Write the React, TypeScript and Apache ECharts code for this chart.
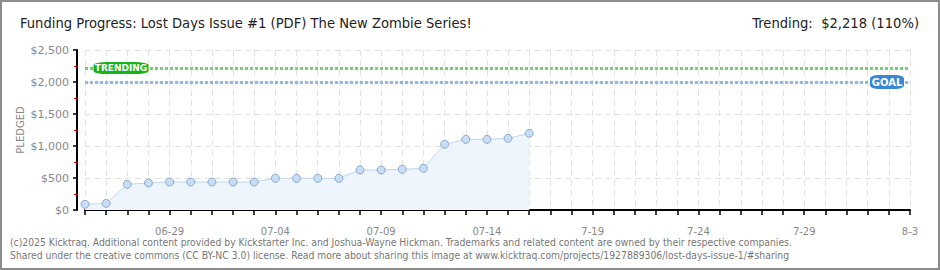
import { useEffect, useRef } from "react";
import * as echarts from "echarts";

const categories = [
  "06-25", "06-26", "06-27", "06-28", "06-29", "06-30",
  "07-01", "07-02", "07-03", "07-04", "07-05", "07-06", "07-07", "07-08",
  "07-09", "07-10", "07-11", "07-12", "07-13", "07-14", "07-15", "07-16",
  "7-17", "7-18", "7-19", "7-20", "7-21", "7-22", "7-23", "7-24", "7-25",
  "7-26", "7-27", "7-28", "7-29", "7-30", "7-31", "8-1", "8-2", "8-3",
];
const tickLabels = ["06-29", "07-04", "07-09", "07-14", "7-19", "7-24", "7-29", "8-3"];
const pledged = [
  89, 104, 401, 422, 437, 437, 437, 437, 437, 495, 495, 495, 495, 625, 625,
  635, 651, 1026, 1104, 1104, 1120, 1198,
];
const trending = 2218;
const goal = 2000;
const titleText = "Funding Progress: Lost Days Issue #1 (PDF) The New Zombie Series!";
const trendingText = "Trending:  $2,218 (110%)";
const footer1 =
  "(c)2025 Kicktraq. Additional content provided by Kickstarter Inc. and Joshua-Wayne Hickman. Trademarks and related content are owned by their respective companies.";
const footer2 =
  "Shared under the creative commons (CC BY-NC 3.0) license. Read more about sharing this image at www.kicktraq.com/projects/1927889306/lost-days-issue-1/#sharing";

export default function App() {
  const ref = useRef<HTMLDivElement>(null);
  useEffect(() => {
    document.body.style.margin = "0";
    const chart = echarts.init(ref.current!, null, { renderer: "svg" });
    const titleFont = "'Liberation Sans Narrow', 'DejaVu Sans Condensed', 'Liberation Sans', sans-serif";
    const smallFont = "'DejaVu Sans', sans-serif";
    chart.setOption({
      animation: false,
      backgroundColor: "#ffffff",
      grid: { left: 85, right: 30, top: 50, bottom: 60, containLabel: false },
      xAxis: {
        type: "category",
        data: categories,
        boundaryGap: false,
        offset: 10,
        axisLine: { show: true, lineStyle: { color: "#000", width: 2 } },
        axisTick: { show: true, interval: 0, length: 5, lineStyle: { color: "#000", width: 1.5 } },
        axisLabel: {
          interval: (_i: number, v: string) => tickLabels.includes(v),
          color: "#888",
          fontSize: 10,
          fontFamily: smallFont,
          margin: 6,
        },
        splitLine: {
          show: true,
          interval: 0,
          lineStyle: { color: "#e2e2e2", type: [6, 4], width: 1 },
        },
      },
      yAxis: {
        type: "value",
        min: 0,
        max: 2500,
        interval: 500,
        offset: 8,
        name: "PLEDGED",
        nameLocation: "middle",
        nameRotate: 90,
        nameGap: 52,
        nameMoveOverlap: false,
        nameTextStyle: { color: "#888", fontSize: 10, fontFamily: smallFont },
        axisLine: { show: true, lineStyle: { color: "#000", width: 2 } },
        axisTick: { show: true, length: 4, lineStyle: { color: "#000", width: 1.5 } },
        minorTick: { show: true, splitNumber: 2, length: 3, lineStyle: { color: "#e00000", width: 1 } },
        axisLabel: {
          color: "#888",
          fontSize: 11,
          fontFamily: smallFont,
          margin: 8,
          formatter: (v: number) => "$" + v.toLocaleString("en-US"),
        },
        splitLine: { show: true, lineStyle: { color: "#e2e2e2", type: [6, 4], width: 1 } },
      },
      series: [
        {
          type: "line",
          data: pledged,
          symbol: "circle",
          symbolSize: 8,
          lineStyle: { color: "#bcd6f2", width: 1 },
          itemStyle: { color: "#c6def7", borderColor: "#8ea9cc", borderWidth: 1 },
          areaStyle: { color: "#eef5fd", opacity: 1 },
          markLine: {
            silent: true,
            symbol: ["none", "none"],
            label: { show: false },
            data: [
              { yAxis: trending, lineStyle: { color: "#72d272", width: 3, type: [3, 2] } },
              { yAxis: goal, lineStyle: { color: "#8db8e8", width: 3, type: [3, 2] } },
            ],
          },
        },
        {
          type: "line",
          data: [],
          z: 10,
          markPoint: {
            silent: true,
            data: [
              {
                coord: [categories[0], trending],
                symbol: "roundRect",
                symbolSize: [55, 12],
                symbolOffset: [36, 0],
                itemStyle: { color: "#17b317" },
                label: {
                  show: true,
                  formatter: "TRENDING",
                  color: "#fff",
                  fontSize: 9,
                  fontWeight: "bold",
                  fontFamily: smallFont,
                },
              },
              {
                coord: [categories[categories.length - 1], goal],
                symbol: "roundRect",
                symbolSize: [34, 14],
                symbolOffset: [-23, 0],
                itemStyle: { color: "#3a87d6" },
                label: {
                  show: true,
                  formatter: "GOAL",
                  color: "#fff",
                  fontSize: 10,
                  fontWeight: "bold",
                  fontFamily: smallFont,
                },
              },
            ],
          },
        },
      ],
      graphic: [
        {
          type: "rect",
          shape: { x: 1, y: 1, width: 938, height: 268 },
          style: { fill: "none", stroke: "#8c8c8c", lineWidth: 2 },
          silent: true,
        },
        {
          type: "text",
          left: 20,
          top: 15,
          style: { text: titleText, fill: "#222", font: `14.6px ${titleFont}` },
        },
        {
          type: "text",
          right: 21,
          top: 15,
          style: { text: trendingText, fill: "#222", font: `14.6px ${titleFont}` },
        },
        {
          type: "text",
          left: 10,
          top: 237,
          style: { text: footer1, fill: "#777", font: `10.3px 'DejaVu Sans Condensed', sans-serif` },
        },
        {
          type: "text",
          left: 10,
          top: 250,
          style: { text: footer2, fill: "#777", font: `10.3px 'DejaVu Sans Condensed', sans-serif` },
        },
      ],
    });
    return () => chart.dispose();
  }, []);
  return <div ref={ref} style={{ width: 940, height: 270 }} />;
}
